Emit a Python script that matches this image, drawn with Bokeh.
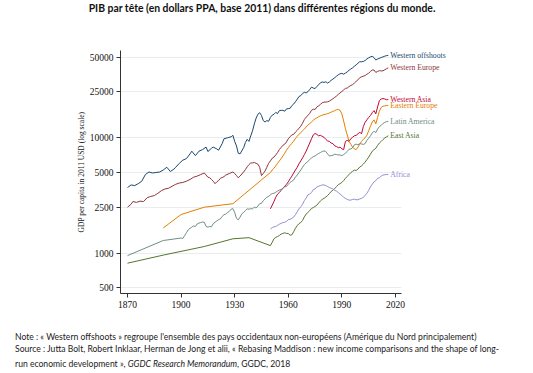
from bokeh.plotting import figure
from bokeh.layouts import column
from bokeh.models import (ColumnDataSource, FixedTicker, NumeralTickFormatter,
                          Range1d, LabelSet, BoxAnnotation, Div)
from bokeh.embed import file_html
from bokeh.resources import INLINE
from bokeh.core.properties import value

ANNUAL = list(range(1950, 2017))

# ---------------- data (GDP per capita, 2011 USD) ----------------
wo_years = [1870, 1872, 1874, 1876, 1878, 1880, 1882, 1884, 1886, 1888, 1890, 1892, 1894,
            1896, 1897, 1899, 1901, 1903, 1905, 1906, 1908, 1910, 1912, 1914, 1915, 1917,
            1918, 1920, 1921, 1923, 1924, 1926, 1928, 1929, 1930, 1931, 1932, 1933, 1935,
            1936, 1937, 1938, 1939, 1940, 1941, 1942, 1943, 1944, 1945, 1946, 1947, 1948,
            1949] + ANNUAL
wo_gdp = [3700, 3900, 3850, 4000, 4200, 4800, 5050, 4950, 5000, 5050, 5250, 5550, 5100,
          5350, 5550, 6000, 6400, 6600, 7250, 7650, 7000, 7650, 7900, 8300, 7600, 8100,
          8300, 8000, 7800, 8900, 9800, 10000, 10200, 10500, 9300, 8500, 7350, 7250, 8200,
          9100, 9700, 9300, 10400, 11500, 13200, 14800, 16000, 16500, 15600, 14100, 13700, 14100,
          13900,
          15000, 15700, 16000, 16600, 16200, 17200, 17300, 17300, 17000, 17800,
          17900, 18000, 19000, 19600, 20500, 21600, 22800, 23200, 24200, 24800,
          24500, 25100, 26200, 27500, 27000, 26700, 27900, 28800, 30000, 30500,
          30200, 30600, 29800, 30500, 31500, 32300, 33200, 34200, 35200, 35900,
          36200, 35600, 36400, 37300, 38500, 39500, 40400, 41700, 42900, 44300,
          45700, 45600, 45900, 46800, 48200, 49400, 50300, 50900, 49500, 47300,
          48200, 48900, 49700, 50300, 51000, 51600, 51900]

we_years = [1870, 1872, 1873, 1875, 1877, 1879, 1881, 1883, 1885, 1887, 1889, 1891, 1893,
            1895, 1897, 1899, 1901, 1903, 1905, 1907, 1909, 1911, 1913, 1914, 1915, 1916,
            1917, 1918, 1919, 1920, 1921, 1922, 1924, 1925, 1927, 1929, 1930, 1931, 1932,
            1933, 1934, 1935, 1936, 1937, 1938, 1939, 1940, 1941, 1942, 1943, 1944, 1945,
            1946, 1947, 1948, 1949] + ANNUAL
we_gdp = [2500, 2650, 2800, 2750, 2820, 2800, 3020, 3100, 3150, 3300, 3480, 3600, 3650,
          3800, 3950, 4050, 4100, 4200, 4350, 4550, 4650, 4800, 4950, 4750, 4550, 4500,
          4350, 4200, 4000, 4150, 4250, 4450, 4600, 4750, 4900, 5050, 4900, 4700, 4500,
          4650, 4850, 5050, 5300, 5600, 5850, 6050, 6050, 6100, 6000, 5900, 5550, 4700,
          4900, 5150, 5550, 6000,
          6300, 6650, 6800, 7100, 7450, 7900, 8250, 8600, 8800, 9200,
          9800, 10200, 10600, 10700, 11200, 11600, 12100, 12600, 13400, 14400,
          15100, 15600, 16300, 17300, 17700, 17600, 18500, 18900, 19500, 20100,
          20400, 20400, 20500, 20800, 21300, 21800, 22400, 23000, 23800, 24500,
          25200, 26000, 26800, 27000, 27800, 28400, 28900, 29800, 30800, 31800,
          33200, 33800, 34200, 34600, 35600, 36300, 37600, 38700, 38700, 36900,
          37600, 38200, 38000, 38100, 38900, 39700, 40400]

wa_years = ANNUAL
wa_gdp = [2420, 2600, 2800, 3050, 3250, 3350, 3500, 3650, 3800, 3950,
          4150, 4400, 4650, 4950, 5250, 5550, 5950, 6300, 6700, 7150,
          7650, 8300, 9000, 9800, 10600, 10900, 10700, 10400, 10500, 10300,
          10100, 9700, 9400, 9300, 9000, 8900, 8500, 8400, 8200, 8300,
          8000, 7900, 9300, 9500, 9300, 9800, 10100, 10400, 10500, 10800,
          11200, 10800, 12500, 13600, 14300, 15000, 15600, 16500, 17200, 16100,
          18500, 21000, 21700, 21900, 21700, 21400, 21400]

ee_years = [1890, 1900, 1913, 1929] + ANNUAL
ee_gdp = [1650, 2160, 2500, 2680,
          5000, 5250, 5450, 5700, 6000, 6300, 6600, 6950, 7350, 7800,
          8200, 8600, 8950, 9350, 9850, 10300, 10700, 11100, 11500, 11900,
          12400, 12900, 13300, 13700, 14200, 14600, 14900, 15200, 15500, 15700,
          15900, 16000, 16200, 16400, 16700, 16900, 17200, 17500, 17600, 17300,
          16100, 14000, 12000, 10600, 9300, 8800, 8300, 8000, 7900, 8300,
          8800, 9300, 9700, 10000, 10500, 11500, 12600, 13700, 14300, 13200,
          15000, 17000, 18300, 18800, 18900, 19000, 19100]

la_years = [1870, 1890] + list(range(1900, 2017))
la_gdp = [950, 1285,
          1350, 1340, 1420, 1500, 1590, 1640, 1680, 1720, 1700, 1790,
          1820, 1840, 1860, 1850, 1700, 1680, 1700, 1690, 1800, 1850,
          1900, 1950, 1980, 2080, 2150, 2180, 2250, 2300, 2400, 2430,
          2250, 2000, 1940, 2050, 2190, 2250, 2340, 2420, 2400, 2430,
          2420, 2500, 2460, 2560, 2680, 2700, 2850, 2950, 3050, 3100,
          3200, 3280, 3300, 3370, 3450, 3520, 3560, 3650, 3750, 3780,
          3950, 4100, 4200, 4300, 4550, 4750, 5000, 5250, 5550, 5850,
          6050, 6250, 6450, 6700, 6850, 6950, 7150, 7300, 7450, 7600,
          7700, 7600, 7250, 6950, 7000, 7050, 7200, 7150, 7100, 7100,
          7000, 7150, 7350, 7600, 7950, 8000, 8200, 8700, 8800, 8700,
          8900, 8850, 8750, 8900, 9500, 9900, 10400, 11000, 11400, 11100,
          11900, 12500, 12800, 13300, 13600, 13800, 13900]

ea_years = [1870, 1890, 1913, 1929, 1938] + ANNUAL
ea_gdp = [817, 960, 1140, 1330, 1360,
          1160, 1240, 1330, 1370, 1390, 1420, 1460, 1480, 1500, 1480,
          1480, 1430, 1440, 1530, 1640, 1730, 1800, 1840, 1920, 2060,
          2180, 2250, 2330, 2440, 2480, 2540, 2600, 2720, 2830, 2920,
          2980, 3060, 3150, 3280, 3420, 3520, 3620, 3780, 3920, 4000,
          4100, 4250, 4450, 4620, 4800, 4980, 5120, 5250, 5200, 5350,
          5580, 5700, 5900, 6150, 6450, 6800, 7200, 7650, 7900, 8100,
          8600, 9000, 9300, 9650, 9950, 10200, 10400]

af_years = ANNUAL
af_gdp = [1620, 1660, 1690, 1700, 1740, 1780, 1810, 1840, 1850, 1880,
          1950, 1960, 2000, 2050, 2150, 2280, 2420, 2520, 2650, 2850,
          3000, 3200, 3250, 3350, 3550, 3600, 3750, 3800, 3850, 3900,
          3900, 3850, 3780, 3700, 3650, 3600, 3500, 3450, 3350, 3250,
          3150, 3050, 2980, 2920, 2880, 2880, 2920, 2930, 2900, 2900,
          2950, 2980, 3050, 3150, 3300, 3500, 3750, 3950, 4150, 4250,
          4450, 4500, 4650, 4750, 4780, 4800, 4800]

series_names = ["Western offshoots", "Western Europe", "Western Asia", "Eastern Europe",
                "Latin America", "East Asia", "Africa"]
series_years = [wo_years, we_years, wa_years, ee_years, la_years, ea_years, af_years]
series_gdp = [wo_gdp, we_gdp, wa_gdp, ee_gdp, la_gdp, ea_gdp, af_gdp]
series_colors = ["#1a476f", "#90353b", "#c10534", "#e37e00", "#6e8e84", "#55752f", "#938dd2"]

y_ticks = [500, 1000, 2500, 5000, 10000, 25000, 50000]
x_ticks = [1870, 1900, 1930, 1960, 1990, 2020]

title_text = "PIB par tête (en dollars PPA, base 2011) dans différentes régions du monde."
note_1 = ("Note : « Western offshoots » regroupe l'ensemble des pays occidentaux "
          "non-européens (Amérique du Nord principalement)")
note_2 = ("Source : Jutta Bolt, Robert Inklaar, Herman de Jong et alii, « Rebasing Maddison : "
          "new income comparisons and the shape of long-")
note_3a = "run economic development », "
note_3b = "GGDC Research Memorandum"
note_3c = ", GGDC, 2018"

# ---------------- layout constants ----------------
SERIF = "Liberation Serif"
SANS = "Lato"
W = 533
X_START, X_AXIS_END, X_END = 1866.08, 2023.36, 2092.8
Y_START, Y_END = 446, 57150

# ---------------- title ----------------
title_div = Div(
    text=('<div style="position:relative;width:533px;height:22px;">'
          '<div style="position:absolute;left:0;top:1px;width:524px;text-align:center;'
          'white-space:nowrap;font-family:Lato;font-weight:bold;font-size:10.4px;'
          'line-height:14px;color:#111111;">' + title_text + '</div></div>'),
    width=W, height=22, margin=(0, 0, 0, 0))

# ---------------- main chart ----------------
p = figure(width=W, height=296, y_axis_type="log",
           x_range=Range1d(X_START, X_END), y_range=Range1d(Y_START, Y_END),
           output_backend="svg", toolbar_location=None,
           min_border_left=120, min_border_right=8,
           min_border_top=28, min_border_bottom=25)
p.outline_line_color = None

yt = FixedTicker(ticks=y_ticks)
p.yaxis.ticker = yt
p.ygrid.ticker = yt
p.yaxis.formatter = NumeralTickFormatter(format="0")
p.xaxis.ticker = FixedTicker(ticks=x_ticks)
p.xaxis.bounds = (X_START, X_AXIS_END)
p.xgrid.visible = False
p.ygrid.grid_line_color = "#e8eef0"
p.ygrid.grid_line_width = 1
# the plot region of the reference stops at the x axis end: hide grid to the right
p.add_layout(BoxAnnotation(left=X_AXIS_END, fill_color="white", fill_alpha=1.0,
                           line_color=None, level="underlay"))

for yrs, vals, col in zip(series_years, series_gdp, series_colors):
    p.line(yrs, vals, line_color=col, line_width=1)

for ax in (p.xaxis, p.yaxis):
    ax.axis_line_color = "#333333"
    ax.major_tick_line_color = "#333333"
    ax.major_tick_in = 0
    ax.major_tick_out = 4
    ax.minor_tick_line_color = None
    ax.major_label_text_font = SERIF
    ax.major_label_text_font_size = "9.5px"
    ax.major_label_text_color = "#111111"

p.xaxis.major_label_standoff = 3
p.yaxis.major_label_standoff = 3
p.yaxis.axis_label = "GDP per capita in 2011 USD (log scale)"
p.yaxis.axis_label_text_font = SERIF
p.yaxis.axis_label_text_font_size = "7.5px"
p.yaxis.axis_label_text_font_style = "normal"
p.yaxis.axis_label_text_color = "#111111"
p.yaxis.axis_label_standoff = 1

lab_src = ColumnDataSource(dict(
    x=[yrs[-1] for yrs in series_years],
    y=[vals[-1] for vals in series_gdp],
    text=series_names,
    color=series_colors,
))
p.add_layout(LabelSet(x="x", y="y", text="text", source=lab_src, x_offset=2,
                      text_color="color", text_font=value(SERIF), text_font_size="7.7px",
                      text_baseline="middle", text_align="left"))

# ---------------- notes ----------------
LINE = ('position:absolute;left:15px;top:{top}px;white-space:nowrap;'
        'line-height:12px;')
notes_div = Div(
    text=('<div style="position:relative;width:533px;height:54px;font-family:Lato;'
          'font-size:8.6px;color:#222222;">'
          '<div style="' + LINE.format(top=12.7) + '">' + note_1 + '</div>'
          '<div style="' + LINE.format(top=25.3) + '">' + note_2 + '</div>'
          '<div style="' + LINE.format(top=39.5) + '">' + note_3a + '<i>' + note_3b + '</i>'
          + note_3c + '</div></div>'),
    width=W, height=54, margin=(0, 0, 0, 0))

page = column(title_div, p, notes_div, spacing=0)
open("out.html", "w").write(file_html(page, INLINE))
